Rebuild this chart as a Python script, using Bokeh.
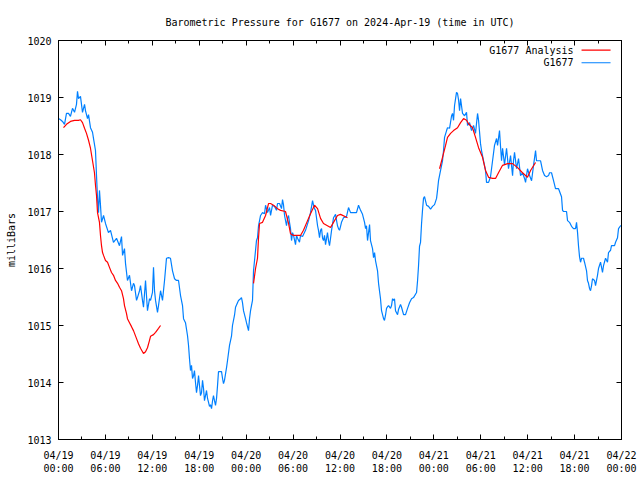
from bokeh.plotting import figure
from bokeh.models import Range1d, FixedTicker, LinearAxis, Label
from bokeh.embed import file_html
from bokeh.resources import INLINE

# ---------------- data (hours since 2024-04-19 00:00 UTC, pressure in mb) ----------------
blue_t = [0.00, 0.26, 0.51, 0.77, 1.02, 1.28, 1.53, 1.79, 2.05, 2.30, 2.43, 2.56, 2.81, 3.07, 3.33, 3.45, 3.71, 3.84,
          4.09, 4.35, 4.48, 4.73, 4.86, 4.99, 5.12, 5.24, 5.37, 5.50, 5.76, 6.01, 6.39, 6.65, 7.03, 7.42, 7.80, 8.06,
          8.19, 8.44, 8.57, 8.82, 9.08, 9.34, 9.59, 9.72, 9.98, 10.10, 10.36, 10.49, 10.74, 10.87, 11.13, 11.25, 11.38,
          11.64, 11.77, 12.02, 12.15, 12.28, 12.41, 12.66, 12.79, 13.05, 13.30, 13.56, 13.81, 14.07, 14.32, 14.58,
          14.84, 15.09, 15.35, 15.60, 15.86, 15.99, 16.24, 16.50, 16.63, 16.75, 16.88, 17.01, 17.14, 17.27, 17.39,
          17.52, 17.65, 17.78, 17.91, 18.03, 18.16, 18.29, 18.42, 18.55, 18.67, 18.80, 18.93, 19.06, 19.19, 19.31,
          19.44, 19.57, 19.70, 19.82, 19.95, 20.08, 20.21, 20.34, 20.46, 20.59, 20.85, 20.98, 21.10, 21.23, 21.49,
          21.62, 21.87, 22.13, 22.25, 22.51, 22.64, 22.89, 23.02, 23.28, 23.40, 23.53, 23.66, 23.92, 24.04, 24.30,
          24.43, 24.56, 24.68, 24.81, 24.94, 25.07, 25.20, 25.32, 25.45, 25.58, 25.84, 26.09, 26.35, 26.48, 26.73,
          26.99, 27.12, 27.24, 27.37, 27.63, 27.88, 28.01, 28.27, 28.52, 28.65, 28.78, 28.91, 29.16, 29.29, 29.42,
          29.54, 29.67, 29.80, 29.93, 30.06, 30.31, 30.44, 30.57, 30.82, 30.95, 31.21, 31.59, 31.98, 32.23, 32.49,
          32.61, 32.74, 32.87, 33.13, 33.25, 33.38, 33.51, 33.64, 33.77, 33.89, 34.02, 34.15, 34.28, 34.40, 34.53,
          34.66, 34.79, 34.92, 35.17, 35.43, 35.56, 35.68, 35.81, 35.94, 36.07, 36.19, 36.45, 36.83, 37.09, 37.35,
          37.73, 38.11, 38.37, 38.63, 38.88, 39.14, 39.27, 39.39, 39.52, 39.65, 39.78, 39.90, 40.16, 40.29, 40.42,
          40.54, 40.80, 40.93, 41.18, 41.31, 41.57, 41.69, 41.82, 41.95, 42.08, 42.21, 42.46, 42.59, 42.72, 42.85,
          42.97, 43.10, 43.36, 43.48, 43.74, 43.87, 44.13, 44.38, 44.64, 44.89, 45.15, 45.40, 45.79, 45.92, 46.04,
          46.17, 46.30, 46.43, 46.55, 46.68, 46.81, 47.07, 47.32, 47.58, 47.83, 48.09, 48.35, 48.47, 48.60, 48.86,
          48.99, 49.11, 49.24, 49.37, 49.63, 49.75, 50.01, 50.27, 50.39, 50.52, 50.65, 50.78, 50.90, 51.03, 51.16,
          51.29, 51.42, 51.67, 51.93, 52.18, 52.31, 52.57, 52.82, 53.08, 53.33, 53.59, 53.72, 53.97, 54.10, 54.36,
          54.61, 54.74, 55.00, 55.25, 55.51, 55.76, 56.02, 56.15, 56.40, 56.53, 56.66, 56.79, 57.04, 57.30, 57.55,
          57.81, 58.07, 58.19, 58.32, 58.58, 58.83, 59.09, 59.34, 59.60, 59.73, 59.98, 60.24, 60.50, 60.75, 61.01,
          61.13, 61.39, 61.65, 61.90, 62.16, 62.41, 62.67, 62.80, 63.05, 63.31, 63.56, 63.95, 64.33, 64.46, 64.59,
          64.97, 65.10, 65.35, 65.61, 65.86, 66.12, 66.25, 66.38, 66.50, 66.63, 66.76, 66.89, 67.14, 67.27, 67.53,
          67.65, 67.78, 67.91, 68.04, 68.17, 68.29, 68.55, 68.68, 68.93, 69.06, 69.32, 69.57, 69.70, 69.96, 70.21,
          70.34, 70.60, 70.72, 71.11, 71.24, 71.49, 71.62, 71.88, 72.00]
blue_p = [1018.63, 1018.61, 1018.58, 1018.53, 1018.72, 1018.72, 1018.67, 1018.81, 1018.74, 1018.88, 1019.11, 1018.98,
          1019.02, 1018.74, 1018.88, 1018.77, 1018.63, 1018.70, 1018.47, 1018.39, 1018.28, 1018.07, 1017.63, 1017.23,
          1016.98, 1017.37, 1017.11, 1016.81, 1016.93, 1016.79, 1016.63, 1016.67, 1016.46, 1016.53, 1016.40, 1016.56,
          1016.23, 1016.35, 1016.09, 1015.79, 1015.88, 1015.61, 1015.74, 1015.70, 1015.44, 1015.49, 1015.61, 1015.70,
          1015.44, 1015.32, 1015.79, 1015.53, 1015.26, 1015.47, 1015.44, 1015.58, 1016.02, 1015.61, 1015.44, 1015.23,
          1015.35, 1015.61, 1015.44, 1015.79, 1016.18, 1016.19, 1016.18, 1015.96, 1015.82, 1015.79, 1015.79, 1015.53,
          1015.35, 1015.12, 1015.05, 1014.82, 1014.65, 1014.42, 1014.21, 1014.30, 1014.07, 1014.12, 1014.21, 1014.00,
          1013.82, 1013.95, 1014.12, 1013.95, 1013.77, 1013.82, 1014.04, 1013.89, 1013.68, 1013.77, 1013.86, 1013.72,
          1013.65, 1013.58, 1013.61, 1013.54, 1013.68, 1013.77, 1013.68, 1013.60, 1013.72, 1013.95, 1014.19, 1014.19,
          1014.19, 1014.07, 1013.98, 1014.04, 1014.26, 1014.39, 1014.65, 1014.82, 1015.00, 1015.18, 1015.32, 1015.40,
          1015.44, 1015.47, 1015.49, 1015.40, 1015.26, 1015.12, 1015.05, 1014.91, 1015.12, 1015.26, 1015.35, 1015.44,
          1015.96, 1016.14, 1016.32, 1016.49, 1016.54, 1016.75, 1016.93, 1016.98, 1016.96, 1017.11, 1016.98, 1017.07,
          1016.93, 1017.02, 1017.11, 1017.09, 1017.02, 1017.14, 1017.14, 1017.05, 1017.21, 1017.11, 1016.93, 1016.75,
          1016.88, 1016.93, 1016.81, 1016.70, 1016.49, 1016.63, 1016.58, 1016.42, 1016.58, 1016.53, 1016.46, 1016.58,
          1016.56, 1016.67, 1016.84, 1016.98, 1017.19, 1017.11, 1017.05, 1017.02, 1016.75, 1016.67, 1016.54, 1016.67,
          1016.70, 1016.53, 1016.49, 1016.58, 1016.42, 1016.53, 1016.63, 1016.49, 1016.40, 1016.53, 1016.67, 1016.89,
          1016.95, 1016.84, 1016.75, 1016.70, 1016.67, 1016.74, 1016.81, 1016.89, 1016.91, 1017.07, 1016.98, 1016.98,
          1016.98, 1017.11, 1017.02, 1016.95, 1016.81, 1016.70, 1016.75, 1016.49, 1016.63, 1016.77, 1016.49, 1016.35,
          1016.19, 1016.28, 1016.14, 1015.96, 1015.74, 1015.47, 1015.26, 1015.12, 1015.09, 1015.18, 1015.30, 1015.33,
          1015.35, 1015.30, 1015.35, 1015.47, 1015.44, 1015.47, 1015.26, 1015.19, 1015.28, 1015.37, 1015.32, 1015.19,
          1015.19, 1015.30, 1015.40, 1015.47, 1015.49, 1015.58, 1015.79, 1016.04, 1016.39, 1016.46, 1016.79, 1017.02,
          1017.23, 1017.26, 1017.11, 1017.09, 1017.04, 1017.09, 1017.12, 1017.23, 1017.37, 1017.54, 1017.72, 1017.81,
          1017.89, 1018.07, 1018.30, 1018.42, 1018.47, 1018.46, 1018.68, 1018.72, 1018.60, 1018.86, 1018.98, 1019.09,
          1019.07, 1018.96, 1018.77, 1018.98, 1018.72, 1018.68, 1018.74, 1018.51, 1018.56, 1018.42, 1018.51, 1018.37,
          1018.72, 1018.60, 1018.19, 1018.07, 1017.89, 1017.72, 1017.51, 1017.51, 1017.61, 1017.89, 1018.16, 1018.28,
          1018.16, 1018.42, 1018.14, 1017.89, 1018.11, 1017.82, 1018.11, 1017.75, 1017.98, 1017.63, 1017.89, 1018.04,
          1017.75, 1017.93, 1017.63, 1017.68, 1017.58, 1017.51, 1017.75, 1017.63, 1017.54, 1017.81, 1018.07, 1017.89,
          1017.89, 1017.89, 1017.72, 1017.63, 1017.61, 1017.63, 1017.68, 1017.68, 1017.54, 1017.40, 1017.40, 1017.26,
          1017.02, 1017.00, 1017.00, 1016.84, 1016.81, 1016.74, 1016.70, 1016.70, 1016.81, 1016.63, 1016.40, 1016.21,
          1016.11, 1016.18, 1016.18, 1016.11, 1015.96, 1015.79, 1015.74, 1015.65, 1015.61, 1015.70, 1015.82, 1015.79,
          1015.70, 1015.88, 1016.00, 1016.11, 1015.93, 1016.05, 1016.18, 1016.11, 1016.28, 1016.32, 1016.40, 1016.40,
          1016.46, 1016.54, 1016.70, 1016.75, 1016.75]

analysis1_t = [0.64, 1.02, 1.53, 2.05, 2.56, 2.81, 3.07, 3.33, 3.58, 3.84, 4.09, 4.35, 4.60, 4.73, 4.86, 4.99, 5.24,
               5.37, 5.50, 5.63, 5.76, 6.01, 6.27, 6.52, 6.78, 7.03, 7.29, 7.55, 7.80, 8.06, 8.31, 8.44, 8.70, 8.82,
               9.08, 9.34, 9.59, 9.98, 10.23, 10.49, 10.87, 11.13, 11.38, 11.64, 11.77, 12.15, 12.41, 12.79, 13.05]
analysis1_p = [1018.47, 1018.53, 1018.58, 1018.60, 1018.60, 1018.61, 1018.56, 1018.46, 1018.37, 1018.25, 1018.11,
               1017.89, 1017.68, 1017.46, 1017.28, 1016.98, 1016.81, 1016.58, 1016.40, 1016.28, 1016.23, 1016.14,
               1016.11, 1016.02, 1015.93, 1015.88, 1015.79, 1015.74, 1015.67, 1015.61, 1015.47, 1015.35, 1015.21,
               1015.12, 1015.05, 1014.98, 1014.91, 1014.77, 1014.68, 1014.60, 1014.51, 1014.54, 1014.61, 1014.74,
               1014.81, 1014.84, 1014.88, 1014.95, 1015.00]

analysis2_t = [24.94, 25.20, 25.45, 25.58, 25.71, 26.09, 26.48, 26.86, 27.12, 27.50, 28.01, 28.40, 29.03, 29.42,
               29.67, 30.06, 30.95, 31.33, 31.85, 32.23, 32.74, 33.13, 33.51, 33.89, 34.79, 35.17, 35.68, 36.07, 36.96]
analysis2_p = [1015.74, 1016.00, 1016.18, 1016.54, 1016.79, 1016.81, 1016.93, 1017.14, 1017.14, 1017.11, 1017.05,
               1017.02, 1017.00, 1016.79, 1016.61, 1016.58, 1016.58, 1016.67, 1016.84, 1016.96, 1017.11, 1017.05,
               1016.88, 1016.79, 1016.72, 1016.81, 1016.93, 1016.95, 1016.89]

analysis3_t = [48.73, 49.11, 49.50, 49.75, 50.14, 50.52, 51.03, 51.42, 51.80, 52.18, 52.44, 52.95, 53.33, 53.72,
               54.23, 54.61, 55.00, 55.51, 55.89, 56.27, 56.79, 57.43, 58.07, 58.71, 59.34, 59.98, 60.37, 61.01]
analysis3_p = [1017.75, 1017.95, 1018.16, 1018.30, 1018.37, 1018.42, 1018.47, 1018.56, 1018.63, 1018.60, 1018.54,
               1018.47, 1018.30, 1018.12, 1017.95, 1017.72, 1017.60, 1017.58, 1017.58, 1017.68, 1017.81, 1017.84,
               1017.84, 1017.77, 1017.68, 1017.60, 1017.72, 1017.86]

x_major_ticks = [0, 6, 12, 18, 24, 30, 36, 42, 48, 54, 60, 66, 72]
x_minor_ticks = [0, 3, 6, 9, 12, 15, 18, 21, 24, 27, 30, 33, 36, 39, 42, 45, 48, 51, 54, 57, 60, 63, 66, 69, 72]
x_tick_labels = ["04/19\n00:00", "04/19\n06:00", "04/19\n12:00", "04/19\n18:00",
                 "04/20\n00:00", "04/20\n06:00", "04/20\n12:00", "04/20\n18:00",
                 "04/21\n00:00", "04/21\n06:00", "04/21\n12:00", "04/21\n18:00",
                 "04/22\n00:00"]
y_ticks = [1013, 1014, 1015, 1016, 1017, 1018, 1019, 1020]

series_names = ["G1677 Analysis", "G1677"]
series_colors = ["#ff0000", "#0080ff"]

TITLE = "Barometric Pressure for G1677 on 2024-Apr-19 (time in UTC)"
FONT = "DejaVu Sans Mono"
FS = "10px"

# ---------------- figure ----------------
p = figure(width=640, height=480, x_range=Range1d(0, 72), y_range=Range1d(1013, 1020),
           output_backend="svg", toolbar_location=None,
           min_border_left=58, min_border_right=19, min_border_top=40, min_border_bottom=41)
p.background_fill_color = "white"
p.border_fill_color = "white"
p.outline_line_color = "black"
p.outline_line_width = 1
p.xgrid.visible = False
p.ygrid.visible = False

p.title.text = TITLE
p.title.align = "center"
p.title.text_font = FONT
p.title.text_font_size = FS
p.title.text_font_style = "normal"
p.title.text_color = "black"
p.title.standoff = 26

def style_axis(ax):
    ax.axis_line_color = "black"
    ax.major_tick_line_color = "black"
    ax.minor_tick_line_color = "black"
    ax.major_tick_in = 5
    ax.major_tick_out = 0
    ax.minor_tick_in = 3
    ax.minor_tick_out = 0
    ax.major_label_text_font = FONT
    ax.major_label_text_font_size = FS
    ax.major_label_text_color = "black"

xt = FixedTicker(ticks=x_major_ticks, minor_ticks=x_minor_ticks)
yt = FixedTicker(ticks=y_ticks, minor_ticks=[])

xa = p.xaxis[0]
xa.ticker = xt
xa.major_label_overrides = {t: lab for t, lab in zip(x_major_ticks, x_tick_labels)}
style_axis(xa)
xa.major_label_standoff = 10

ya = p.yaxis[0]
ya.ticker = yt
ya.major_label_overrides = {t: str(t) for t in y_ticks}
style_axis(ya)
ya.major_label_standoff = 7
ya.axis_label = "milliBars"
ya.axis_label_text_font = FONT
ya.axis_label_text_font_size = FS
ya.axis_label_text_font_style = "normal"
ya.axis_label_text_color = "black"
ya.axis_label_standoff = 7

# mirror tick marks on top and right (no labels, as in gnuplot)
top = LinearAxis(ticker=FixedTicker(ticks=x_major_ticks, minor_ticks=x_minor_ticks))
style_axis(top)
top.major_label_overrides = {t: "" for t in x_major_ticks}
top.major_label_standoff = 0
p.add_layout(top, "above")
right = LinearAxis(ticker=FixedTicker(ticks=y_ticks, minor_ticks=[]))
style_axis(right)
right.major_label_overrides = {t: "" for t in y_ticks}
right.major_label_standoff = 0
p.add_layout(right, "right")

# ---------------- series ----------------
p.line(blue_t, blue_p, line_color=series_colors[1], line_width=1.2)
for tt, pp in [(analysis1_t, analysis1_p), (analysis2_t, analysis2_p), (analysis3_t, analysis3_p)]:
    p.line(tt, pp, line_color=series_colors[0], line_width=1.2)

# ---------------- gnuplot-style key (text left, sample right) ----------------
key_text_x = 65.87
key_line_x0 = 66.89
key_line_x1 = 70.6
key_rows_y = [1019.83, 1019.61]
for name, col, ky in zip(series_names, series_colors, key_rows_y):
    p.add_layout(Label(x=key_text_x, y=ky, text=name, text_align="right", text_baseline="middle",
                       text_font=FONT, text_font_size=FS, text_color="black"))
    p.segment(x0=[key_line_x0], y0=[ky], x1=[key_line_x1], y1=[ky], line_color=col, line_width=1.2)

open("out.html", "w").write(file_html(p, INLINE))
